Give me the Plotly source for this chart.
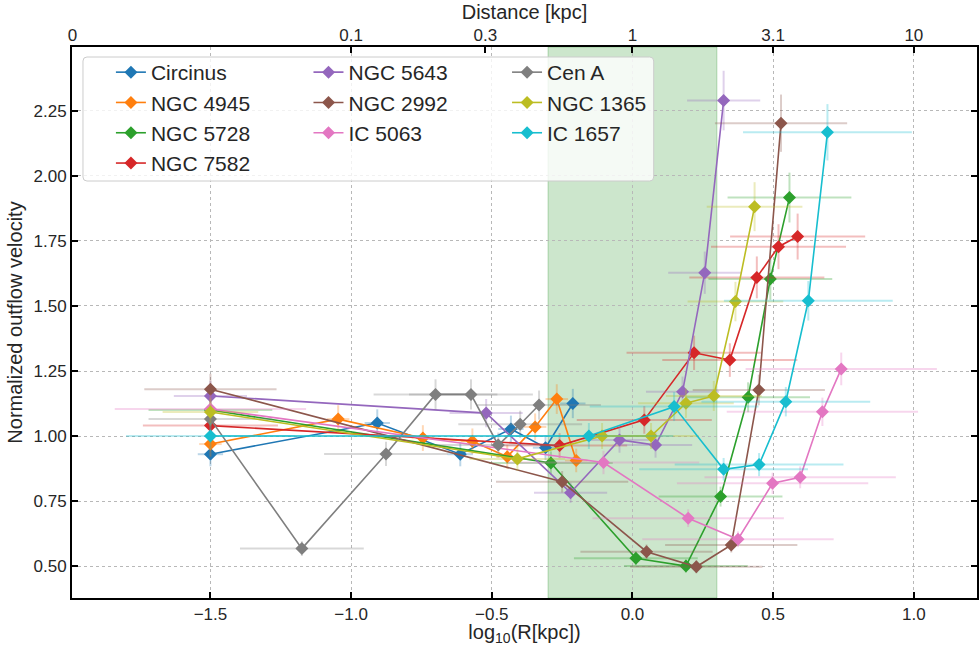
import plotly.graph_objects as go

names = ["Circinus", "NGC 4945", "NGC 5728", "NGC 7582", "NGC 5643",
         "NGC 2992", "IC 5063", "Cen A", "NGC 1365", "IC 1657"]
colors = ["#1f77b4", "#ff7f0e", "#2ca02c", "#d62728", "#9467bd",
          "#8c564b", "#e377c2", "#7f7f7f", "#bcbd22", "#17becf"]

circinus_x = [-1.5, -0.907, -0.612, -0.432, -0.309, -0.212]
circinus_y = [0.93, 1.05, 0.93, 1.027, 0.955, 1.125]
ngc4945_x = [-1.5, -1.046, -0.745, -0.569, -0.445, -0.346, -0.269, -0.2]
ngc4945_y = [0.969, 1.065, 0.992, 0.98, 0.92, 1.035, 1.142, 0.906]
ngc5728_x = [-1.5, -0.29, 0.012, 0.19, 0.313, 0.411, 0.49, 0.558]
ngc5728_y = [1.10, 0.896, 0.53, 0.50, 0.767, 1.149, 1.604, 1.917]
ngc7582_x = [-1.5, -0.259, 0.042, 0.219, 0.346, 0.442, 0.519, 0.587]
ngc7582_y = [1.04, 0.963, 1.062, 1.32, 1.292, 1.61, 1.728, 1.767]
ngc5643_x = [-1.5, -0.52, -0.22, -0.046, 0.082, 0.178, 0.257, 0.324]
ngc5643_y = [1.154, 1.088, 0.782, 0.985, 0.965, 1.17, 1.628, 2.29]
ngc2992_x = [-1.5, -0.25, 0.05, 0.227, 0.351, 0.449, 0.528]
ngc2992_y = [1.18, 0.824, 0.555, 0.497, 0.581, 1.177, 2.203]
ic5063_x = [-1.5, -0.103, 0.198, 0.375, 0.498, 0.596, 0.675, 0.742]
ic5063_y = [1.104, 0.898, 0.684, 0.603, 0.818, 0.841, 1.093, 1.258]
cena_x = [-1.5, -1.175, -0.876, -0.7, -0.574, -0.477, -0.399, -0.332]
cena_y = [1.065, 0.567, 0.931, 1.16, 1.16, 0.965, 1.045, 1.119]
ngc1365_x = [-1.5, -0.409, -0.108, 0.066, 0.19, 0.289, 0.366, 0.434]
ngc1365_y = [1.092, 0.912, 1.0, 1.0, 1.126, 1.154, 1.517, 1.882]
ic1657_x = [-1.5, -0.155, 0.148, 0.324, 0.45, 0.545, 0.625, 0.693]
ic1657_y = [1.0, 1.0, 1.113, 0.872, 0.89, 1.132, 1.52, 2.168]

xs = [circinus_x, ngc4945_x, ngc5728_x, ngc7582_x, ngc5643_x,
      ngc2992_x, ic5063_x, cena_x, ngc1365_x, ic1657_x]
ys = [circinus_y, ngc4945_y, ngc5728_y, ngc7582_y, ngc5643_y,
      ngc2992_y, ic5063_y, cena_y, ngc1365_y, ic1657_y]
# uncertainty in log10(R) per galaxy, and relative velocity uncertainty (%)
x_err = [0.045, 0.04, 0.22, 0.24, 0.13, 0.235, 0.34, 0.22, 0.17, 0.30]
y_err_pct = [5, 5, 5, 5, 5, 5, 5, 5, 5, 5]
legend_of = ["legend", "legend", "legend", "legend", "legend2",
             "legend2", "legend2", "legend3", "legend3", "legend3"]

top_tickvals = [-1.99, -1.0, -0.5229, 0.0, 0.5, 1.0]
top_ticktext = ["0", "0.1", "0.3", "1", "3.1", "10"]

def rgba(hexc, a):
    h = hexc.lstrip("#")
    return "rgba(%d,%d,%d,%.2f)" % (int(h[0:2], 16), int(h[2:4], 16), int(h[4:6], 16), a)

fig = go.Figure()
for i, n in enumerate(names):
    fig.add_trace(go.Scatter(
        x=xs[i], y=ys[i], name=n, mode="lines+markers",
        line=dict(color=colors[i], width=1.6),
        marker=dict(symbol="diamond", size=10, color=colors[i]),
        error_x=dict(type="constant", value=x_err[i], color=rgba(colors[i], 0.3),
                     thickness=2, width=0),
        error_y=dict(type="percent", value=y_err_pct[i], color=rgba(colors[i], 0.3),
                     thickness=2, width=0),
        legend=legend_of[i],
    ))

# invisible trace for top axis
fig.add_trace(go.Scatter(x=[-1.5], y=[1.0], xaxis="x2", mode="markers",
                         marker=dict(opacity=0), showlegend=False, hoverinfo="skip"))

L, R, T, B = 72, 979, 47, 598
W, H = R - L, B - T
xr = [-1.992, 1.2245]
yr = [0.377, 2.496]
FAM = "Liberation Sans, Arial"
axis_font = dict(family=FAM, size=17, color="#262626")
title_font = dict(family=FAM, size=20, color="#262626")

# legend frame (rounded)
lx0, lx1 = (83 - L) / W, (655 - L) / W
ly1, ly0 = (B - 57) / H, (B - 181) / H
rx, ry = 4 / W, 4 / H
path = (f"M {lx0+rx},{ly0} L {lx1-rx},{ly0} Q {lx1},{ly0} {lx1},{ly0+ry} "
        f"L {lx1},{ly1-ry} Q {lx1},{ly1} {lx1-rx},{ly1} L {lx0+rx},{ly1} "
        f"Q {lx0},{ly1} {lx0},{ly1-ry} L {lx0},{ly0+ry} Q {lx0},{ly0} {lx0+rx},{ly0} Z")

leg_common = dict(yanchor="top", xanchor="left", bgcolor="rgba(0,0,0,0)",
                  font=dict(family=FAM, size=21, color="#262626"), tracegroupgap=0)
leg_top = (B - 52) / H

fig.update_layout(
    width=979, height=646,
    margin=dict(l=L, r=0, t=T, b=646 - B),
    plot_bgcolor="white", paper_bgcolor="white",
    font=dict(family=FAM, size=17, color="#262626"),
    xaxis=dict(range=xr, tickvals=[-1.5, -1.0, -0.5, 0.0, 0.5, 1.0],
               ticktext=["\u22121.5", "\u22121.0", "\u22120.5", "0.0", "0.5", "1.0"],
               ticks="inside", ticklen=6, tickwidth=2, tickcolor="black",
               showline=True, linecolor="black", linewidth=2, mirror=True,
               showgrid=True, gridcolor="#b8b8b8", griddash="dot", gridwidth=1,
               zeroline=False, tickfont=axis_font,
               title=dict(text="log<sub>10</sub>(R[kpc])", font=title_font, standoff=6)),
    xaxis2=dict(range=xr, overlaying="x", side="top", tickvals=top_tickvals,
                ticktext=top_ticktext, ticks="inside", ticklen=6, tickwidth=2,
                tickcolor="black", showgrid=False, zeroline=False, showline=False,
                tickfont=axis_font, ticklabelstandoff=2,
                title=dict(text="Distance [kpc]", font=title_font, standoff=0)),
    yaxis=dict(range=yr, tickvals=[0.5, 0.75, 1.0, 1.25, 1.5, 1.75, 2.0, 2.25],
               ticktext=["0.50", "0.75", "1.00", "1.25", "1.50", "1.75", "2.00", "2.25"],
               ticks="inside", ticklen=6, tickwidth=2, tickcolor="black",
               showline=True, linecolor="black", linewidth=2, mirror="ticks",
               showgrid=True, gridcolor="#b8b8b8", griddash="dot", gridwidth=1,
               zeroline=False, tickfont=axis_font,
               title=dict(text="Normalized outflow velocity", font=title_font, standoff=6)),
    shapes=[
        dict(type="rect", xref="x", yref="paper", x0=-0.3, x1=0.3, y0=0, y1=1,
             fillcolor="rgba(0,128,0,0.2)", line=dict(color="rgba(0,128,0,0.25)", width=1),
             layer="below"),
        dict(type="path", xref="paper", yref="paper", path=path,
             fillcolor="rgba(255,255,255,0.8)", line=dict(color="#cccccc", width=1),
             layer="above"),
    ],
    legend=dict(x=(111 - L) / W, y=leg_top, **leg_common),
    legend2=dict(x=(309 - L) / W, y=leg_top, **leg_common),
    legend3=dict(x=(508 - L) / W, y=leg_top, **leg_common),
    showlegend=True,
)

fig.write_html("out.html")
